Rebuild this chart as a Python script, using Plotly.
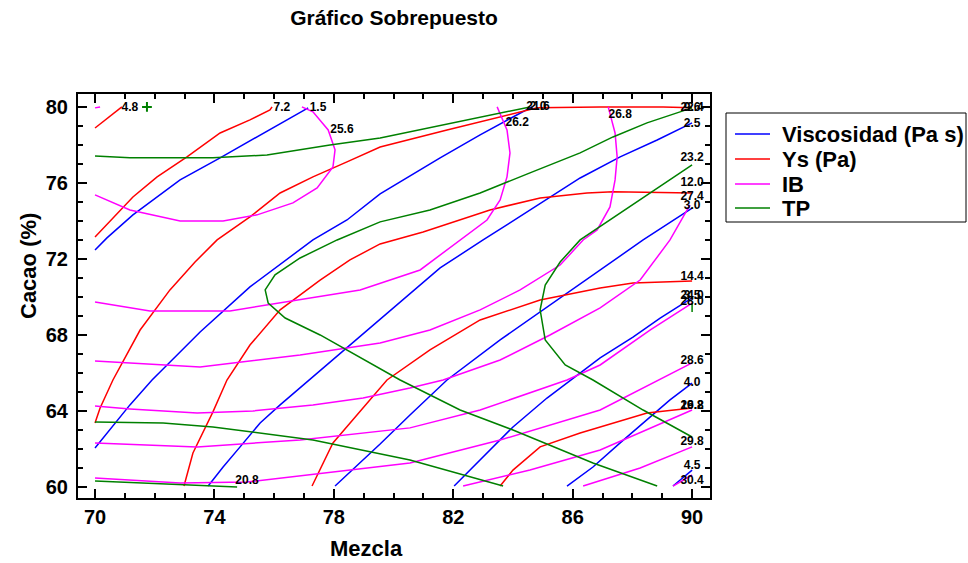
import plotly.graph_objects as go

# ---------------- Data ----------------
# Viscosidad (Pa s) contours
visc_levels = ["1.5", "2.0", "2.5", "3.0", "3.5", "4.0", "4.5"]
visc_x = [
    [70.00, 70.40, 71.27, 72.85, 74.19, 75.43, 76.43, 77.14],
    [70.00, 71.17, 71.91, 73.52, 75.19, 77.30, 78.44, 79.55, 81.56, 82.90, 84.00, 84.64],
    [73.79, 74.29, 74.86, 75.53, 76.20, 77.10, 78.54, 80.22, 81.56, 83.00, 84.57, 86.25, 87.59, 88.83, 90.00],
    [78.04, 78.78, 79.55, 80.55, 81.79, 83.57, 85.24, 86.92, 88.36, 90.00],
    [82.03, 82.90, 84.00, 85.14, 86.15, 86.92, 88.02, 88.93, 90.00],
    [85.81, 86.68, 87.59, 88.49, 89.26, 90.00],
    [89.36, 90.00],
]
visc_y = [
    [72.47, 73.11, 74.32, 76.16, 77.32, 78.42, 79.32, 79.95],
    [62.05, 64.32, 65.63, 68.16, 70.53, 73.00, 74.05, 75.42, 77.32, 78.53, 79.47, 80.00],
    [60.05, 61.05, 62.11, 63.37, 64.32, 65.53, 67.47, 69.68, 71.53, 73.00, 74.58, 76.26, 77.37, 78.26, 79.16],
    [60.05, 61.11, 62.26, 63.79, 65.63, 67.74, 69.58, 71.42, 73.00, 74.68],
    [60.05, 61.42, 63.16, 64.68, 65.89, 66.79, 67.89, 68.89, 69.95],
    [60.05, 61.05, 62.32, 63.53, 64.58, 65.47],
    [60.05, 60.89],
]

# Ys (Pa) contours
ys_levels = ["4.8", "7.2", "9.6", "12.0", "14.4", "16.8"]
ys_x = [
    [70.00, 70.90],
    [70.00, 71.27, 72.08, 73.08, 74.19, 75.19, 75.86, 75.93],
    [70.00, 70.17, 70.60, 71.51, 72.51, 73.35, 74.09, 75.19, 76.20, 77.30, 78.44, 79.55, 81.79, 84.81, 86.92, 89.03, 90.00],
    [72.98, 73.28, 73.95, 74.42, 75.19, 76.20, 77.54, 78.54, 79.55, 80.99, 83.23, 84.91, 86.48, 87.35, 90.00],
    [77.27, 77.97, 79.78, 81.22, 82.90, 84.91, 86.92, 88.02, 90.00],
    [83.57, 84.00, 84.91, 86.25, 88.49, 90.00],
]
ys_y = [
    [78.89, 80.00],
    [73.16, 75.26, 76.32, 77.37, 78.63, 79.32, 79.84, 80.00],
    [63.37, 64.16, 65.63, 68.26, 70.37, 71.84, 73.00, 74.21, 75.47, 76.32, 77.11, 77.89, 78.79, 79.95, 80.00, 80.00, 79.95],
    [60.05, 61.79, 63.95, 65.63, 67.47, 69.32, 70.89, 71.95, 72.79, 73.42, 74.58, 75.21, 75.47, 75.53, 75.47],
    [60.05, 62.32, 65.63, 67.21, 68.79, 69.84, 70.47, 70.74, 70.84],
    [60.05, 60.89, 62.11, 62.84, 63.89, 64.16],
]

# IB contours
ib_levels = ["25.0", "25.6", "26.2", "26.8", "27.4", "28.0", "28.6", "29.2", "29.8", "30.4"]
ib_x = [
    [70.00, 70.17],
    [70.00, 71.17, 72.85, 74.29, 75.43, 76.63, 77.44, 77.97, 78.04, 77.81, 77.30, 76.93],
    [70.00, 71.84, 74.52, 76.87, 78.88, 80.89, 82.23, 83.13, 83.57, 83.80, 83.90, 83.80, 83.47],
    [70.00, 73.52, 76.87, 79.55, 81.22, 82.90, 84.24, 85.58, 86.35, 86.82, 87.25, 87.42, 87.49, 87.42, 87.19],
    [70.00, 71.17, 73.42, 75.29, 77.30, 78.98, 80.55, 81.66, 83.57, 85.24, 86.92, 88.26, 89.26, 89.77, 89.93],
    [70.00, 73.42, 76.87, 80.55, 82.90, 85.81, 86.92, 88.59, 90.00],
    [70.00, 72.85, 75.09, 80.55, 83.57, 86.92, 90.00],
    [82.33, 84.57, 86.92, 90.00],
    [86.35, 88.26, 90.00],
    [89.36, 90.00],
]
ib_y = [
    [79.95, 80.00],
    [75.37, 74.58, 74.00, 74.00, 74.32, 74.95, 75.74, 76.84, 77.74, 78.79, 79.74, 80.00],
    [69.74, 69.26, 69.26, 69.84, 70.37, 71.42, 73.00, 74.05, 75.11, 76.32, 77.58, 78.79, 80.00],
    [66.63, 66.32, 66.95, 67.58, 68.26, 69.32, 70.37, 71.68, 73.00, 73.53, 74.74, 76.16, 77.37, 78.63, 80.00],
    [64.26, 64.11, 63.89, 64.00, 64.32, 64.68, 65.21, 65.63, 66.68, 68.00, 69.42, 70.89, 73.00, 74.42, 74.84],
    [62.32, 62.11, 62.47, 63.11, 64.05, 65.63, 66.42, 68.26, 69.68],
    [60.47, 60.21, 60.26, 61.26, 62.47, 64.05, 66.53],
    [60.05, 60.89, 61.95, 64.05],
    [60.05, 61.00, 62.11],
    [60.05, 60.63],
]

# TP contours
tp_levels = ["20.8", "21.6", "21.6", "22.4", "23.2", "24.0"]
tp_x = [
    [70.00, 72.51, 74.76],
    [70.00, 72.28, 73.95, 77.30, 80.55, 83.67],
    [70.00, 71.17, 73.95, 75.76, 77.87, 79.55, 84.57],
    [90.00, 88.49, 87.35, 86.25, 84.57, 82.90, 81.22, 79.55, 78.11, 76.87, 76.03, 75.70, 75.80, 76.37,
     77.54, 80.22, 82.23, 84.00, 86.68, 88.83],
    [90.00, 88.26, 86.25, 85.58, 85.08, 84.91, 85.08, 85.75, 86.68, 88.36, 90.00],
    [90.00, 90.00],
]
tp_y = [
    [60.32, 60.16, 60.00],
    [63.42, 63.37, 63.16, 62.47, 61.42, 60.05],
    [77.42, 77.32, 77.32, 77.47, 78.00, 78.37, 80.00],
    [79.95, 79.16, 78.42, 77.58, 76.53, 75.47, 74.58, 73.95, 73.00, 72.05, 71.16, 70.37, 69.68, 68.89,
     68.00, 65.63, 64.05, 63.00, 61.26, 60.05],
    [76.95, 75.11, 73.00, 71.84, 70.63, 69.32, 67.74, 66.42, 65.63, 64.05, 62.63],
    [69.68, 69.21],
]
tp_point_x = [71.74]
tp_point_y = [80.0]

# contour labels as drawn on the chart
label_text = ["4.8", "7.2", "1.5", "25.6", "21.6", "2.0", "26.2", "26.8", "22.4", "9.6",
              "2.5", "23.2", "12.0", "27.4", "3.0", "14.4", "24.0", "3.5", "28.0", "28.6",
              "4.0", "16.8", "29.2", "29.8", "4.5", "30.4", "20.8"]
label_x = [71.17, 76.26, 77.47, 78.27, 84.84, 84.84, 84.14, 87.59, 90.0, 90.0,
           90.0, 90.0, 90.0, 90.0, 90.0, 90.0, 90.0, 90.0, 90.0, 90.0,
           90.0, 90.0, 90.0, 90.0, 90.0, 90.0, 75.09]
label_y = [79.95, 79.95, 79.95, 78.79, 80.0, 80.0, 79.16, 79.58, 79.95, 79.95,
           79.10, 77.30, 76.00, 75.26, 74.79, 71.05, 70.05, 70.05, 69.74, 66.63,
           65.47, 64.26, 64.26, 62.37, 61.10, 60.32, 60.32]

series_names = ["Viscosidad (Pa s)", "Ys (Pa)", "IB", "TP"]
series_colors = ["#0000FF", "#FF0000", "#FF00FF", "#008000"]
series_x = [visc_x, ys_x, ib_x, tp_x]
series_y = [visc_y, ys_y, ib_y, tp_y]

FONT = "Liberation Sans"
fig = go.Figure()

for name, color, xs, ys in zip(series_names, series_colors, series_x, series_y):
    for xx, yy in zip(xs, ys):
        fig.add_trace(go.Scatter(
            x=xx, y=yy, mode="lines", name=name, legendgroup=name,
            showlegend=False, line=dict(color=color, width=1.5),
            hoverinfo="skip"))

fig.add_trace(go.Scatter(
    x=tp_point_x, y=tp_point_y, mode="markers", showlegend=False, name="TP",
    marker=dict(symbol="cross-thin", size=7, line=dict(color="#008000", width=2)),
    hoverinfo="skip"))

fig.add_trace(go.Scatter(
    x=label_x, y=label_y, mode="text", text=label_text, showlegend=False,
    textposition="middle center", cliponaxis=False,
    textfont=dict(family=FONT, size=12, color="black", weight="bold"),
    hoverinfo="skip"))

axis_common = dict(
    showline=True, linecolor="black", linewidth=2, mirror="allticks",
    ticks="inside", ticklen=9, tickwidth=2, tickcolor="black",
    showgrid=False, zeroline=False,
    tickfont=dict(family=FONT, size=20, color="black", weight="bold"),
    minor=dict(ticks="inside", ticklen=5, tickwidth=1.5, tickcolor="black", dtick=1, showgrid=False),
)

fig.update_xaxes(range=[69.43, 90.6], tick0=70, dtick=4, **axis_common)
fig.update_yaxes(range=[59.42, 80.68], tick0=60, dtick=4, ticklabelstandoff=4, **axis_common)

# plot-area geometry in pixels (for placing layout-level decorations)
PL, PR, PT, PB = 78, 710, 94, 498
def px_x(p):
    return (p - PL) / (PR - PL)
def px_y(p):
    return (PB - p) / (PB - PT)

title_font = dict(family=FONT, size=22, color="black", weight="bold")
annotations = [
    dict(text="Mezcla", x=px_x(366), y=px_y(548), xref="paper", yref="paper",
         showarrow=False, xanchor="center", yanchor="middle", font=title_font),
    dict(text="Cacao (%)", x=px_x(28), y=px_y(266), xref="paper", yref="paper",
         showarrow=False, xanchor="center", yanchor="middle", textangle=-90, font=title_font),
]

# hand-drawn legend box (matches reference spacing)
shapes = [dict(type="rect", xref="paper", yref="paper",
               x0=px_x(726), x1=px_x(966), y0=px_y(222), y1=px_y(113),
               line=dict(color="black", width=1), fillcolor="white", layer="above")]
row_y = [134, 159, 184, 208]
for name, color, ry in zip(series_names, series_colors, row_y):
    shapes.append(dict(type="line", xref="paper", yref="paper",
                       x0=px_x(735), x1=px_x(770), y0=px_y(ry), y1=px_y(ry),
                       line=dict(color=color, width=1.5), layer="above"))
    annotations.append(dict(text=name, x=px_x(780), y=px_y(ry), xref="paper", yref="paper",
                            showarrow=False, xanchor="left", yanchor="middle",
                            font=dict(family=FONT, size=22, color="black", weight="bold")))

fig.update_layout(
    width=968, height=563,
    margin=dict(l=PL, r=968 - PR, t=PT, b=563 - PB),
    paper_bgcolor="white", plot_bgcolor="white",
    title=dict(text="Gráfico Sobrepuesto", x=0.5, xref="paper", xanchor="center",
               y=1 - 18 / 563, yref="container", yanchor="middle",
               font=dict(family=FONT, size=21, color="black", weight="bold")),
    showlegend=False,
    annotations=annotations,
    shapes=shapes,
)

fig.write_html("out.html")
